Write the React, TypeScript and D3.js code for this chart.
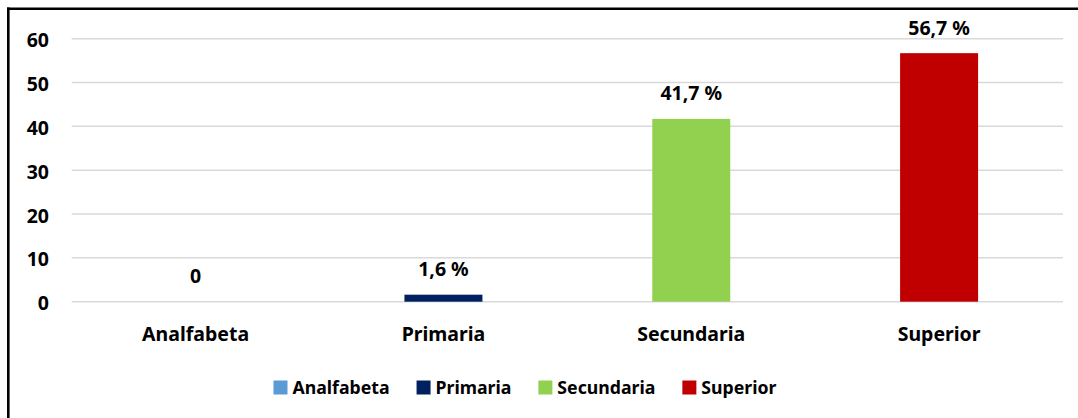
import React, { useEffect, useRef } from "react";
import * as d3 from "d3";

const categories = ["Analfabeta", "Primaria", "Secundaria", "Superior"];
const values = [0, 1.6, 41.7, 56.7];
const valueLabels = ["0", "1,6 %", "41,7 %", "56,7 %"];
const colors = ["#5B9BD5", "#002060", "#92D050", "#C00000"];
const yTicks = [0, 10, 20, 30, 40, 50, 60];

const W = 1078;
const H = 418;
const FONT = "'Noto Sans', 'Open Sans', sans-serif";

export default function App() {
  const ref = useRef<SVGSVGElement | null>(null);

  useEffect(() => {
    const svg = d3.select(ref.current);
    svg.selectAll("*").remove();

    const plotLeft = 71.7;
    const plotRight = 1063;
    const y0 = 301.7;
    const y60 = 38.7;

    const x = d3.scaleBand<string>().domain(categories).range([plotLeft, plotRight]).paddingInner(0).paddingOuter(0);
    const y = d3.scaleLinear().domain([0, 60]).range([y0, y60]);
    const barW = 78;

    svg.append("rect").attr("x", 0).attr("y", 0).attr("width", W).attr("height", H).attr("fill", "#fff");
    svg.append("line").attr("x1", 8.3).attr("x2", 8.3).attr("y1", 7.6).attr("y2", H + 5)
      .attr("stroke", "#000").attr("stroke-width", 2.6);
    svg.append("line").attr("x1", 7).attr("x2", W + 5).attr("y1", 8.8).attr("y2", 8.8)
      .attr("stroke", "#000").attr("stroke-width", 2.6);

    svg.append("g").selectAll("line").data(yTicks).join("line")
      .attr("x1", plotLeft).attr("x2", plotRight)
      .attr("y1", (d) => y(d)).attr("y2", (d) => y(d))
      .attr("stroke", "#D9D9D9").attr("stroke-width", 1.5);

    svg.append("g").selectAll("text").data(yTicks).join("text")
      .attr("x", 49).attr("y", (d) => y(d) + 1)
      .attr("text-anchor", "end").attr("dominant-baseline", "central")
      .attr("font-family", FONT).attr("font-weight", "bold").attr("font-size", 19.5)
      .attr("fill", "#000").text((d) => String(d));

    svg.append("g").selectAll("rect").data(categories).join("rect")
      .attr("x", (d) => (x(d) as number) + x.bandwidth() / 2 - barW / 2)
      .attr("width", barW)
      .attr("y", (_d, i) => y(values[i]))
      .attr("height", (_d, i) => y0 - y(values[i]))
      .attr("fill", (_d, i) => colors[i]);

    svg.append("g").selectAll("text").data(categories).join("text")
      .attr("x", (d) => (x(d) as number) + x.bandwidth() / 2)
      .attr("y", (_d, i) => y(values[i]) - 18.5)
      .attr("text-anchor", "middle")
      .attr("font-family", FONT).attr("font-weight", "bold").attr("font-size", 19.5)
      .attr("fill", "#000").text((_d, i) => valueLabels[i]);

    svg.append("g").selectAll("text").data(categories).join("text")
      .attr("x", (d) => (x(d) as number) + x.bandwidth() / 2)
      .attr("y", 340.7)
      .attr("text-anchor", "middle")
      .attr("font-family", FONT).attr("font-weight", "bold").attr("font-size", 19.5)
      .attr("fill", "#000").text((d) => d);

    const lg = svg.append("g");
    const sq = 14;
    const gapText = 5;
    const gapItem = 27;
    const items = categories.map((c, i) => {
      const g = lg.append("g");
      g.append("rect").attr("x", 0).attr("y", 380.5).attr("width", sq).attr("height", sq).attr("fill", colors[i]);
      const t = g.append("text").attr("x", sq + gapText).attr("y", 394.3)
        .attr("font-family", FONT).attr("font-weight", "bold").attr("font-size", 17.7)
        .attr("fill", "#000").text(c);
      const w = (t.node() as SVGTextElement).getComputedTextLength();
      return { g, w: sq + gapText + w };
    });
    const total = d3.sum(items, (d) => d.w) + gapItem * (items.length - 1);
    let cx = 525 - total / 2;
    items.forEach((it) => {
      it.g.attr("transform", `translate(${cx},0)`);
      cx += it.w + gapItem;
    });
  }, []);

  return (
    <svg
      ref={ref}
      width={W}
      height={H}
      style={{ position: "absolute", left: 0, top: 0, display: "block" }}
    />
  );
}
